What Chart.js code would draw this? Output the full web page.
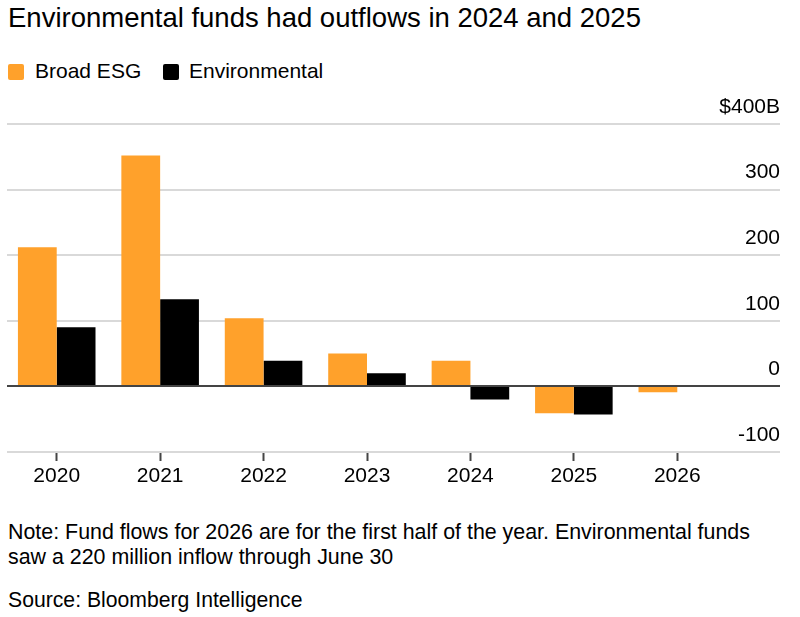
<!DOCTYPE html>
<html lang="en">
<head>
<meta charset="UTF-8">
<title>Environmental funds had outflows in 2024 and 2025</title>
<script src="https://cdn.jsdelivr.net/npm/chart.js@4"></script>
<style>
  html, body { margin: 0; padding: 0; background: #fff; }
  body { width: 800px; height: 617px; position: relative; overflow: hidden;
         font-family: "Liberation Sans", Arial, sans-serif; color: #000; }
  .txt { position: absolute; left: 8px; white-space: nowrap; }
  #title { top: 4px; font-size: 27.5px; line-height: 27px; }
  #legend { top: 60px; font-size: 21px; line-height: 21px; }
  #legend span.sw { position: absolute; top: 4px; width: 16px; height: 16px; border-radius: 2px; }
  #legend span.lb { position: absolute; top: 0; }
  #note { top: 520px; font-size: 21.4px; line-height: 25px; }
  #source { top: 589px; font-size: 21.2px; line-height: 21px; }
  #wrap { position: absolute; left: 0; top: 95px; width: 800px; height: 395px; }
</style>
</head>
<body>
<div id="title" class="txt">Environmental funds had outflows in 2024 and 2025</div>
<div id="legend" class="txt" style="left:0;width:400px;height:24px">
  <span class="sw" style="left:8px;background:#ffa12b"></span><span class="lb" style="left:35px">Broad ESG</span>
  <span class="sw" style="left:163px;background:#000"></span><span class="lb" style="left:189px">Environmental</span>
</div>
<div id="wrap"><canvas id="chart"></canvas></div>
<div id="note" class="txt">Note: Fund flows for 2026 are for the first half of the year. Environmental funds<br>saw a 220 million inflow through June 30</div>
<div id="source" class="txt">Source: Bloomberg Intelligence</div>
<script>
const years = ["2020", "2021", "2022", "2023", "2024", "2025", "2026"]
const broadESG = [212, 352, 104, 50, 39, -41, -9]
const environmental = [90, 133, 39, 20, -20, -43, 0.22]
const yTicks = [-100, 0, 100, 200, 300, 400]

const orange = "#ffa12b"
const font = { family: "'Liberation Sans', Arial, sans-serif", size: 21 }

// horizontal rules run past the plot into the label column
const rules = {
  id: "rules",
  beforeDatasetsDraw(chart) {
    const { ctx, scales } = chart
    ctx.save()
    ctx.strokeStyle = "#d9d9d9"
    ctx.lineWidth = 2
    for (const v of yTicks) {
      if (v === 0) continue
      const y = Math.round(scales.y.getPixelForValue(v))
      ctx.beginPath()
      ctx.moveTo(7, y)
      ctx.lineTo(780, y)
      ctx.stroke()
    }
    ctx.restore()
  },
  afterDatasetsDraw(chart) {
    const { ctx, scales } = chart
    const y = Math.round(scales.y.getPixelForValue(0))
    ctx.save()
    ctx.strokeStyle = "#444"
    ctx.lineWidth = 2
    ctx.beginPath()
    ctx.moveTo(7, y)
    ctx.lineTo(780, y)
    ctx.stroke()
    ctx.restore()
  },
}

new Chart(document.getElementById("chart"), {
  type: "bar",
  data: {
    labels: years,
    datasets: [
      { label: "Broad ESG", data: broadESG, backgroundColor: orange },
      { label: "Environmental", data: environmental, backgroundColor: "#000" },
    ],
  },
  options: {
    responsive: true,
    maintainAspectRatio: false,
    animation: false,
    datasets: { bar: { categoryPercentage: 0.75, barPercentage: 1.0 } },
    layout: { padding: { left: 5, right: 20, top: 29, bottom: 0 } },
    plugins: { legend: { display: false }, tooltip: { enabled: false } },
    scales: {
      x: {
        grid: { display: true, offset: false, drawOnChartArea: false, drawTicks: true, tickLength: 9, tickColor: "#444", tickWidth: 2 },
        border: { display: false },
        ticks: { color: "#000", font, padding: 3, maxRotation: 0 },
        afterFit(scale) {
          scale.height = 38
          scale.paddingLeft = 0
          scale.paddingRight = 0
        },
      },
      y: {
        position: "right",
        min: -100,
        max: 400,
        grid: { display: false },
        border: { display: false },
        ticks: {
          stepSize: 100,
          color: "#000",
          font,
          mirror: true,
          padding: 51,
          labelOffset: -17,
          callback: (v) => (v === 400 ? "$400B" : v),
        },
        afterFit(scale) {
          scale.width = 51
          scale.paddingTop = 0
          scale.paddingBottom = 0
        },
      },
    },
  },
  plugins: [rules],
})
</script>
</body>
</html>
